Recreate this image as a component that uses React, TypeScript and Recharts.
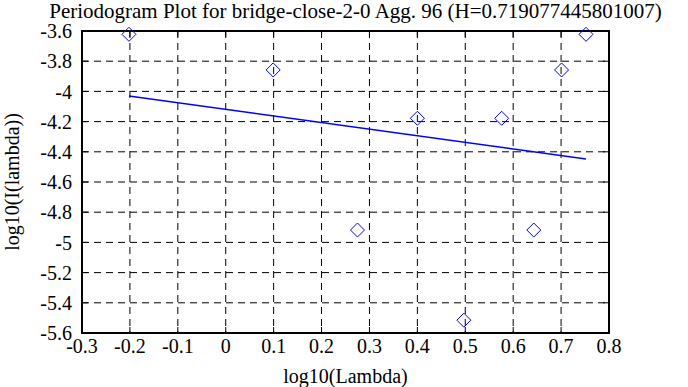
import React from 'react';
import { ScatterChart, Scatter, XAxis, YAxis, CartesianGrid, Label, ReferenceArea, ReferenceLine } from 'recharts';

const chartTitle = 'Periodogram Plot for bridge-close-2-0 Agg. 96 (H=0.719077445801007)';
const xLabel = 'log10(Lambda)';
const yLabel = 'log10(I(lambda))';

const logLambda = [-0.202, 0.099, 0.275, 0.4, 0.497, 0.576, 0.643, 0.701, 0.752];
const logPeriodogram = [-3.622, -3.858, -4.918, -4.178, -5.515, -4.178, -4.918, -3.858, -3.622];

const fitX = [-0.202, 0.752];
const fitY = [-4.03, -4.447];

const xDomain = [-0.3, 0.8];
const yDomain = [-5.6, -3.6];
const xTicks = [-0.3, -0.2, -0.1, 0, 0.1, 0.2, 0.3, 0.4, 0.5, 0.6, 0.7, 0.8];
const yTicks = [-5.6, -5.4, -5.2, -5, -4.8, -4.6, -4.4, -4.2, -4, -3.8, -3.6];

const points = logLambda.map((x, i) => ({ x, y: logPeriodogram[i] }));
const fitLine = fitX.map((x, i) => ({ x, y: fitY[i] }));

// inward tick length on the top and right borders, in data units (about 6px)
const topTickLen = 0.04;
const rightTickLen = 0.0125;

const BLUE = '#0000ff';
const FONT = "'Liberation Serif', 'DejaVu Serif', serif";

const Diamond = (props: any) => {
  const { cx, cy } = props;
  if (cx == null || cy == null) return <g />;
  const r = 7;
  return (
    <polygon
      points={`${cx},${cy - r} ${cx + r},${cy} ${cx},${cy + r} ${cx - r},${cy}`}
      fill="none"
      stroke={BLUE}
      strokeWidth={1}
    />
  );
};

const tickStyle = { fill: '#000', fontSize: 20, fontFamily: FONT };

export default function App() {
  return (
    <div style={{ position: 'absolute', left: 0, top: 0, width: 688, height: 387, background: '#fff', fontFamily: FONT }}>
      <ScatterChart width={688} height={387} margin={{ top: 31, right: 79, bottom: 0, left: 0 }}>
        <CartesianGrid stroke="#000" strokeDasharray="7 5" strokeWidth={1} />
        <XAxis
          type="number"
          dataKey="x"
          domain={xDomain}
          ticks={xTicks}
          height={54}
          tickSize={-6}
          tickMargin={12}
          tick={tickStyle}
          tickLine={{ stroke: '#000' }}
          axisLine={{ stroke: '#000', strokeWidth: 2 }}
          interval={0}
        >
          <Label value={xLabel} position="insideBottom" offset={4} style={{ fill: '#000', fontSize: 20, fontFamily: FONT }} />
        </XAxis>
        <YAxis
          type="number"
          dataKey="y"
          domain={yDomain}
          ticks={yTicks}
          width={82}
          tickSize={-6}
          tickMargin={16}
          tick={tickStyle}
          tickLine={{ stroke: '#000' }}
          axisLine={{ stroke: '#000', strokeWidth: 2 }}
          interval={0}
        >
          <Label
            value={yLabel}
            angle={-90}
            position="insideLeft"
            offset={12}
            style={{ fill: '#000', fontSize: 20, fontFamily: FONT, textAnchor: 'middle' }}
          />
        </YAxis>
        {xTicks.slice(1, -1).map((t) => (
          <ReferenceLine
            key={`tt${t}`}
            segment={[
              { x: t, y: yDomain[1] },
              { x: t, y: yDomain[1] - topTickLen },
            ]}
            stroke="#000"
            strokeWidth={1}
            ifOverflow="visible"
          />
        ))}
        {yTicks.slice(1, -1).map((t) => (
          <ReferenceLine
            key={`rt${t}`}
            segment={[
              { x: xDomain[1], y: t },
              { x: xDomain[1] - rightTickLen, y: t },
            ]}
            stroke="#000"
            strokeWidth={1}
            ifOverflow="visible"
          />
        ))}
        <ReferenceArea
          x1={xDomain[0]}
          x2={xDomain[1]}
          y1={yDomain[0]}
          y2={yDomain[1]}
          fill="none"
          fillOpacity={0}
          stroke="#000"
          strokeWidth={2}
          ifOverflow="visible"
        >
          <Label
            value={chartTitle}
            position="top"
            offset={13}
            dx={10}
            style={{ fill: '#000', fontSize: 21, fontFamily: FONT }}
          />
        </ReferenceArea>
        <Scatter data={points} shape={<Diamond />} isAnimationActive={false} />
        <Scatter
          data={fitLine}
          line={{ stroke: BLUE, strokeWidth: 1.5 }}
          lineType="joint"
          shape={() => <g />}
          isAnimationActive={false}
        />
      </ScatterChart>
    </div>
  );
}
